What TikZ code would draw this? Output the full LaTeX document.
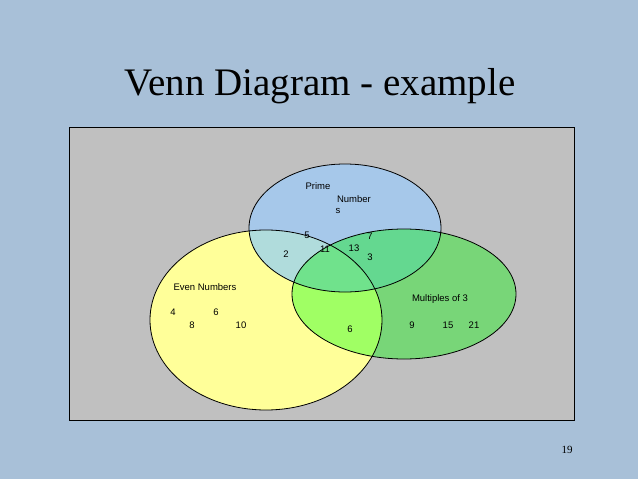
\documentclass[tikz,border=0pt]{standalone}
\usepackage{fontspec}
\setmainfont{Liberation Serif}
\newfontfamily\lab{Liberation Sans}
\definecolor{bg}{RGB}{168,192,216}
\definecolor{panel}{RGB}{192,192,192}
\definecolor{yel}{RGB}{255,255,153}
\definecolor{blu}{RGB}{166,200,234}
\definecolor{grn}{RGB}{120,214,120}
\definecolor{yb}{RGB}{176,220,220}
\definecolor{bgn}{RGB}{100,216,144}
\definecolor{yg}{RGB}{160,255,100}
\definecolor{ybg}{RGB}{112,226,140}
\tikzset{t/.style={font=\lab\fontsize{9.5}{10}\selectfont,inner sep=0pt}}
\begin{document}
\begin{tikzpicture}[x=1pt,y=-1pt]
\fill[bg] (0,0) rectangle (638,479);
\useasboundingbox (0,0) rectangle (638,479);
\node[font=\fontsize{39}{41}\selectfont] (title) at (320,86) {Venn Diagram - example};
\node[font=\fontsize{11}{12}\selectfont] (pg) at (567,450) {19};
\draw[fill=panel,line width=0.6pt] (69,127) rectangle (574,420);
\def\Y{(266,320) ellipse [x radius=116,y radius=90]}
\def\B{(345,228) ellipse [x radius=96,y radius=64]}
\def\G{(404,294) ellipse [x radius=112,y radius=65]}
\fill[yel] \Y; \fill[blu] \B; \fill[grn] \G;
\begin{scope}\clip \Y; \fill[yb] \B; \fill[yg] \G; \end{scope}
\begin{scope}\clip \B; \fill[bgn] \G; \end{scope}
\begin{scope}\clip \Y; \clip \B; \fill[ybg] \G; \end{scope}
\draw[line width=0.8pt] \Y; \draw[line width=0.8pt] \B; \draw[line width=0.8pt] \G;
\node[t] (a1) at (318,186) {Prime};
\node[t] (a2) at (354,199) {Number};
\node[t] (a3) at (338,211) {s};
\node[t] (a4) at (307,235) {5};
\node[t] (a5) at (370,236) {7};
\node[t] (a6) at (286,254) {2};
\node[t] (a7) at (325,249) {11};
\node[t] (a8) at (354,248) {13};
\node[t] (a9) at (370,257) {3};
\node[t] (b1) at (205,287) {Even Numbers};
\node[t] (b2) at (173,312) {4};
\node[t] (b3) at (216,312) {6};
\node[t] (b4) at (192,325) {8};
\node[t] (b5) at (241,325) {10};
\node[t] (c1) at (350,329) {6};
\node[t] (c2) at (440,299) {Multiples of 3};
\node[t] (c3) at (412,325) {9};
\node[t] (c4) at (448,325) {15};
\node[t] (c5) at (474,325) {21};
\end{tikzpicture}
\end{document}
